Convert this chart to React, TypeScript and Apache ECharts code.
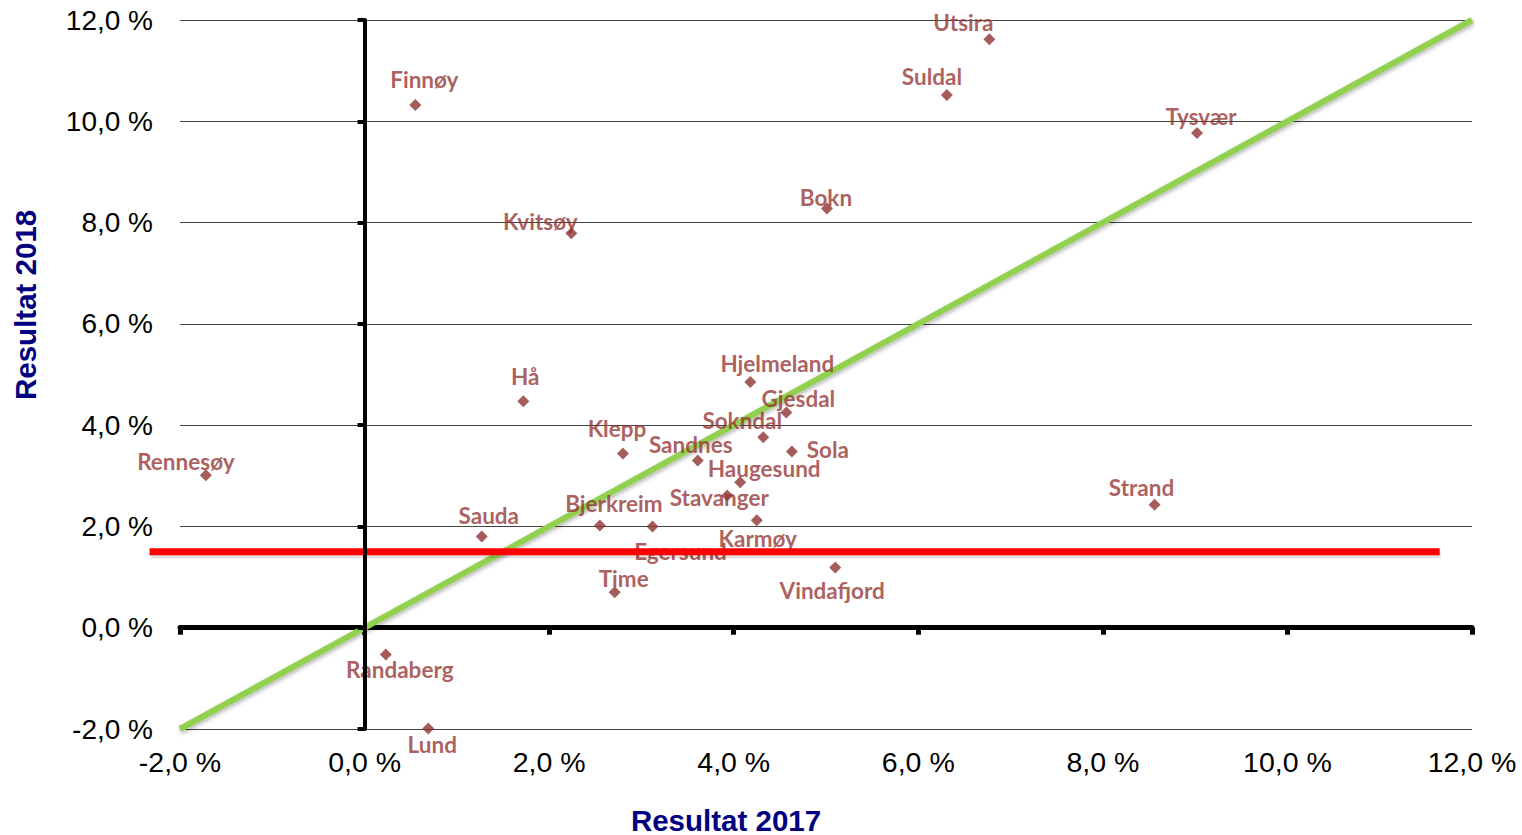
import React, { useEffect, useRef } from "react";
import * as echarts from "echarts";

const names = [
  "Utsira", "Finnøy", "Suldal", "Tysvær", "Bokn", "Kvitsøy", "Hjelmeland", "Hå",
  "Gjesdal", "Sokndal", "Klepp", "Sola", "Sandnes", "Rennesøy", "Haugesund",
  "Stavanger", "Strand", "Bjerkreim", "Egersund", "Karmøy", "Sauda", "Vindafjord",
  "Time", "Randaberg", "Lund",
];
const result2017 = [
  6.77, 0.55, 6.31, 9.02, 5.01, 2.24, 4.18, 1.72,
  4.57, 4.32, 2.80, 4.63, 3.61, -1.72, 4.07,
  3.93, 8.56, 2.55, 3.12, 4.25, 1.27, 5.10,
  2.71, 0.23, 0.69,
];
const result2018 = [
  11.62, 10.32, 10.52, 9.77, 8.28, 7.79, 4.85, 4.47,
  4.25, 3.76, 3.44, 3.48, 3.30, 3.01, 2.87,
  2.61, 2.43, 2.02, 2.00, 2.12, 1.80, 1.19,
  0.70, -0.53, -1.99,
];
const axisTicks = [-2, 0, 2, 4, 6, 8, 10, 12];
const targetLevel = 1.5;
const targetLineX = [-2.33, 11.65];
const diagonal = [
  [-2, -2],
  [12, 12],
];

// label offsets in pixels (style only)
const labelOffsets: Record<string, [number, number]> = {
  Utsira: [-26, -17], Finnøy: [9, -26], Suldal: [-15, -18], Tysvær: [4, -16],
  Bokn: [-1, -11], Kvitsøy: [-31, -12], Hjelmeland: [27, -19], Hå: [2, -25],
  Gjesdal: [12, -14], Sokndal: [-21, -17], Klepp: [-6, -25], Sola: [36, -2],
  Sandnes: [-7, -16], Rennesøy: [-20, -14], Haugesund: [24, -14], Stavanger: [-8, 2],
  Strand: [-13, -17], Bjerkreim: [14, -22], Egersund: [28, 25], Karmøy: [1, 18],
  Sauda: [7, -21], Vindafjord: [-3, 23], Time: [9, -14], Randaberg: [14, 15],
  Lund: [4, 16],
};

const fmt = (v: number) => v.toFixed(1).replace(".", ",") + " %";

export default function App() {
  const ref = useRef<HTMLDivElement>(null);
  useEffect(() => {
    if (!ref.current) return;
    const chart = echarts.init(ref.current, undefined, { renderer: "svg" });
    const labelColor = "#953735";
    const nameGraphics: any[] = [
      {
        id: "xname", type: "text", x: 726, y: 820,
        style: {
          text: "Resultat 2017", fontSize: 29.5, fontWeight: "bold", fontFamily: "Liberation Sans",
          fill: "#000080", align: "center", verticalAlign: "middle", lineHeight: 28,
        },
      },
      {
        id: "yname", type: "text", x: 10, y: 400, rotation: Math.PI / 2,
        style: {
          text: "Resultat 2018", fontSize: 29.5, fontWeight: "bold", fontFamily: "Liberation Sans",
          fill: "#000080",
        },
      },
    ];
    const option: any = {
      animation: false,
      backgroundColor: "#fff",
      grid: { left: 180, right: 50, top: 20, bottom: 106 },
      xAxis: [
        {
          type: "value", min: axisTicks[0], max: axisTicks[axisTicks.length - 1], interval: 2,
          position: "bottom",
          axisLine: { show: false, onZero: false },
          axisTick: { show: false },
          splitLine: { show: false },
          axisLabel: {
            formatter: fmt, fontSize: 28.5, color: "#000", fontFamily: "Liberation Sans", margin: 18,
          },
        },
        {
          type: "value", min: axisTicks[0], max: axisTicks[axisTicks.length - 1], interval: 2,
          position: "bottom", z: 1,
          axisLine: { show: true, onZero: true, onZeroAxisIndex: 0, lineStyle: { color: "#000", width: 5 } },
          axisTick: { show: true, length: 7, lineStyle: { color: "#000", width: 5 } },
          splitLine: { show: false },
          axisLabel: { show: false },
        },
      ],
      yAxis: [
        {
          type: "value", min: axisTicks[0], max: axisTicks[axisTicks.length - 1], interval: 2,
          position: "left",
          axisLine: { show: false, onZero: false },
          axisTick: { show: false },
          splitLine: { show: true, lineStyle: { color: "#444", width: 1 } },
          axisLabel: {
            formatter: fmt, fontSize: 28, color: "#000", fontFamily: "Liberation Sans", margin: 27,
          },
        },
        {
          type: "value", min: axisTicks[0], max: axisTicks[axisTicks.length - 1], interval: 2,
          position: "left", z: 10,
          axisLine: { show: true, onZero: true, onZeroAxisIndex: 0, lineStyle: { color: "#000", width: 4 } },
          axisTick: { show: true, length: 7, lineStyle: { color: "#000", width: 4 } },
          splitLine: { show: false },
          axisLabel: { show: false },
        },
      ],
      graphic: nameGraphics,
      series: [
        {
          type: "line", xAxisIndex: 0, yAxisIndex: 0, z: 2, clip: false,
          symbol: "none",
          lineStyle: {
            color: "#92D050", width: 6,
            shadowColor: "rgba(0,0,0,0.3)", shadowBlur: 4, shadowOffsetX: 1, shadowOffsetY: 2,
          },
          data: diagonal,
        },
        {
          type: "scatter",
          xAxisIndex: 0, yAxisIndex: 0, z: 3,
          symbol: "diamond", symbolSize: 12,
          itemStyle: { color: "#8E3432" },
          data: names.map((n, i) => ({
            name: n,
            value: [result2017[i], result2018[i]],
            label: {
              show: true, position: "inside", formatter: n,
              offset: labelOffsets[n] || [0, -16],
              color: labelColor, fontSize: 22.5, fontWeight: "bold", fontFamily: "Lato",
              align: "center", verticalAlign: "middle",
            },
          })),
        },
      ],
    };
    chart.setOption(option);
    const p1 = chart.convertToPixel({ xAxisIndex: 0, yAxisIndex: 0 }, [targetLineX[0], targetLevel]) as number[];
    const p2 = chart.convertToPixel({ xAxisIndex: 0, yAxisIndex: 0 }, [targetLineX[1], targetLevel]) as number[];
    if (p1 && p2) {
      chart.setOption({
        graphic: [
          ...nameGraphics,
          {
            id: "targetShadow", type: "line", z: 4,
            shape: { x1: p1[0] + 1, y1: p1[1] + 3, x2: p2[0] + 1, y2: p2[1] + 3 },
            style: { stroke: "rgba(0,0,0,0.12)", lineWidth: 7 },
          },
          {
            id: "target", type: "line", z: 5,
            shape: { x1: p1[0], y1: p1[1], x2: p2[0], y2: p2[1] },
            style: { stroke: "#FF0000", lineWidth: 7 },
          },
        ],
      });
    }
    return () => chart.dispose();
  }, []);
  return (
    <div
      ref={ref}
      style={{ position: "fixed", left: 0, top: 0, width: "1522px", height: "835px", background: "#fff" }}
    />
  );
}
